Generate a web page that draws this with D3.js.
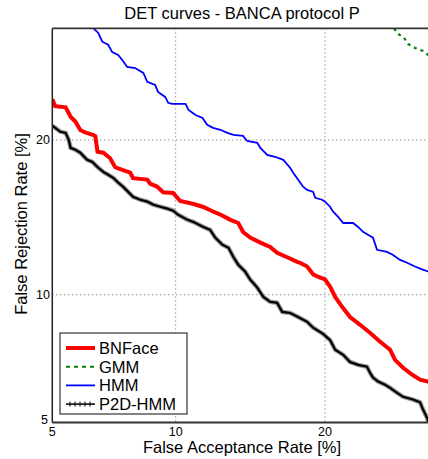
<!DOCTYPE html>
<html>
<head>
<meta charset="utf-8">
<script src="https://cdn.jsdelivr.net/npm/d3@7"></script>
<style>
  body { margin: 0; background: #fff; }
  svg { display: block; font-family: "Liberation Sans", Arial, sans-serif; }
</style>
</head>
<body>
<svg id="chart" width="428" height="459"></svg>
<script>
// rates in percent
var axisTicks = [5, 10, 20];
var axisRange = [5, 30];

var bnfaceFar = [5.0, 5.09, 5.42, 5.58, 5.74, 5.91, 6.08, 6.38, 6.45, 6.53, 6.75, 7.01, 7.22, 7.51, 7.85, 7.97, 8.61, 8.75, 9.07, 9.37, 9.87, 10.24, 10.96, 11.51, 12.07, 12.51, 13.13, 13.63, 13.94, 14.41, 15.10, 15.79, 16.29, 17.03, 17.78, 18.0, 18.56, 19.04, 19.36, 20.0, 20.42, 20.85, 21.44, 22.13, 23.02, 23.91, 24.85, 25.79, 26.26, 27.04, 27.91, 28.72, 29.52, 30.0];
var bnfaceFrr = [23.4, 22.8, 22.7, 21.9, 21.5, 20.8, 20.6, 20.4, 20.3, 19.07, 19.0, 18.6, 17.9, 17.7, 17.5, 17.1, 17.0, 16.7, 16.5, 16.1, 16.05, 15.5, 15.3, 15.1, 14.8, 14.6, 14.26, 14.06, 13.5, 13.15, 12.85, 12.6, 12.25, 12.0, 11.74, 11.69, 11.48, 11.05, 10.95, 10.78, 10.41, 9.89, 9.41, 8.93, 8.58, 8.23, 7.85, 7.52, 7.12, 6.82, 6.57, 6.39, 6.32, 6.25];

var gmmFar = [26.17, 26.55, 27.13, 27.52, 28.21, 29.02, 29.52, 30.0];
var gmmFrr = [30.0, 29.46, 29.07, 28.49, 28.1, 27.81, 27.43, 27.1];

var hmmFar = [6.38, 6.56, 6.71, 6.94, 7.10, 7.34, 7.51, 7.72, 8.06, 8.43, 8.61, 8.98, 9.12, 9.47, 9.62, 9.82, 10.52, 10.68, 11.07, 11.46, 11.73, 12.07, 12.51, 12.94, 13.32, 13.94, 14.21, 14.89, 15.10, 15.58, 16.14, 16.74, 17.26, 17.48, 17.85, 18.24, 18.56, 19.04, 19.2, 19.76, 20.0, 20.42, 20.68, 21.10, 21.53, 22.39, 22.84, 23.28, 23.73, 24.19, 24.56, 25.50, 26.07, 26.75, 27.43, 28.21, 28.92, 29.52, 30.0];
var hmmFrr = [30.0, 29.55, 28.7, 28.4, 27.7, 27.43, 26.96, 26.3, 26.2, 25.75, 24.94, 24.67, 24.04, 23.6, 23.09, 23.0, 23.0, 22.48, 22.05, 21.8, 21.23, 20.98, 20.82, 20.57, 20.41, 20.33, 19.92, 19.77, 19.38, 18.84, 18.69, 18.46, 17.85, 17.49, 17.0, 16.49, 16.27, 16.13, 15.72, 15.59, 15.46, 15.12, 14.79, 14.46, 14.06, 14.06, 13.81, 13.51, 13.33, 13.15, 12.43, 12.31, 12.13, 11.85, 11.69, 11.48, 11.32, 11.21, 11.15];

var p2dFar = [5.0, 5.09, 5.25, 5.42, 5.52, 5.58, 5.74, 5.91, 6.08, 6.15, 6.34, 6.53, 6.75, 6.94, 7.14, 7.35, 7.55, 7.76, 7.97, 8.29, 8.61, 8.88, 9.22, 9.57, 9.87, 10.13, 10.63, 10.96, 11.51, 11.90, 12.20, 12.63, 13.01, 13.32, 13.63, 14.07, 14.41, 14.89, 15.31, 15.79, 16.29, 16.66, 17.26, 18.0, 18.56, 19.04, 19.84, 20.42, 20.85, 21.53, 22.13, 22.84, 23.64, 23.91, 24.19, 24.66, 25.31, 25.79, 26.46, 27.04, 28.01, 28.72, 29.02, 29.42, 29.6];
var p2dFrr = [21.15, 20.98, 20.66, 20.57, 20.0, 19.38, 19.23, 19.0, 18.61, 18.46, 18.3, 17.92, 17.56, 17.35, 17.13, 16.77, 16.48, 16.13, 15.79, 15.59, 15.46, 15.26, 15.12, 14.99, 14.86, 14.59, 14.26, 14.12, 13.81, 13.63, 13.15, 12.73, 12.55, 12.01, 11.58, 11.21, 10.78, 10.36, 9.89, 9.65, 9.6, 9.17, 9.12, 8.89, 8.71, 8.45, 8.18, 7.92, 7.52, 7.32, 7.04, 6.93, 6.86, 6.64, 6.46, 6.32, 6.21, 6.10, 5.93, 5.80, 5.71, 5.62, 5.39, 5.14, 4.98];

var seriesNames = ["BNFace", "GMM", "HMM", "P2D-HMM"];

// inverse normal cdf (Acklam's approximation), DET axes are on normal deviate scale
function probit(p){
  var a = [-39.69683028665376, 220.9460984245205, -275.9285104469687, 138.3577518672690, -30.66479806614716, 2.506628277459239];
  var b = [-54.47609879822406, 161.5858368580409, -155.6989798598866, 66.80131188771972, -13.28068155288572];
  var c = [-0.007784894002430293, -0.3223964580411365, -2.400758277161838, -2.549732539343734, 4.374664141464968, 2.938163982698783];
  var d = [0.007784695709041462, 0.3224671290700398, 2.445134137142996, 3.754408661907416];
  var q, r;
  if (p < 0.02425){
    q = Math.sqrt(-2*Math.log(p));
    return (((((c[0]*q+c[1])*q+c[2])*q+c[3])*q+c[4])*q+c[5]) / ((((d[0]*q+d[1])*q+d[2])*q+d[3])*q+1);
  }
  if (p > 1 - 0.02425){
    q = Math.sqrt(-2*Math.log(1-p));
    return -(((((c[0]*q+c[1])*q+c[2])*q+c[3])*q+c[4])*q+c[5]) / ((((d[0]*q+d[1])*q+d[2])*q+d[3])*q+1);
  }
  q = p - 0.5;
  r = q*q;
  return (((((a[0]*r+a[1])*r+a[2])*r+a[3])*r+a[4])*r+a[5])*q / (((((b[0]*r+b[1])*r+b[2])*r+b[3])*r+b[4])*r+1);
}

var svg = d3.select("#chart");
// plot box (right edge falls just outside the 428px window, like the reference)
var plotL = 52.3, plotR = 432.7, plotT = 28.4, plotB = 422.5;

var x = d3.scaleLinear().domain(axisRange.map(function(v){ return probit(v/100); })).range([plotL, plotR]);
var y = d3.scaleLinear().domain(axisRange.map(function(v){ return probit(v/100); })).range([plotB, plotT]);
function px(v){ return x(probit(v/100)); }
function py(v){ return y(probit(v/100)); }

svg.append("defs").append("clipPath").attr("id", "plotClip")
  .append("rect").attr("x", plotL).attr("y", plotT).attr("width", plotR - plotL).attr("height", plotB - plotT);

// grid
var grid = svg.append("g");
axisTicks.slice(1).forEach(function(t){
  grid.append("line").attr("x1", px(t)).attr("x2", px(t)).attr("y1", plotT).attr("y2", plotB)
    .attr("stroke", "#666").attr("stroke-width", 1).attr("stroke-dasharray", "1,3");
  grid.append("line").attr("x1", plotL).attr("x2", plotR).attr("y1", py(t)).attr("y2", py(t))
    .attr("stroke", "#666").attr("stroke-width", 1).attr("stroke-dasharray", "1,3");
});

// curves
var plot = svg.append("g").attr("clip-path", "url(#plotClip)");
function zipPts(xs, ys){ return xs.map(function(v, i){ return [v, ys[i]]; }); }
var line = d3.line().x(function(d){ return px(d[0]); }).y(function(d){ return py(d[1]); });

plot.append("path").datum(zipPts(hmmFar, hmmFrr)).attr("d", line)
  .attr("fill", "none").attr("stroke", "#0000ff").attr("stroke-width", 1.8);
plot.append("path").datum(zipPts(gmmFar, gmmFrr)).attr("d", line)
  .attr("fill", "none").attr("stroke", "#008000").attr("stroke-width", 2.2).attr("stroke-dasharray", "3,4");
plot.append("path").datum(zipPts(bnfaceFar, bnfaceFrr)).attr("d", line)
  .attr("fill", "none").attr("stroke", "#ff0000").attr("stroke-width", 4);
// P2D-HMM: thin black line with + markers, drawn as a grey halo
plot.append("path").datum(zipPts(p2dFar, p2dFrr)).attr("d", line)
  .attr("fill", "none").attr("stroke", "#999").attr("stroke-width", 4.5);
plot.append("path").datum(zipPts(p2dFar, p2dFrr)).attr("d", line)
  .attr("fill", "none").attr("stroke", "#000").attr("stroke-width", 2.2);

// frame
svg.append("line").attr("x1", plotL).attr("x2", plotL).attr("y1", plotT).attr("y2", plotB).attr("stroke", "#222").attr("stroke-width", 1.5);
svg.append("line").attr("x1", plotL).attr("x2", plotR).attr("y1", plotB).attr("y2", plotB).attr("stroke", "#333").attr("stroke-width", 1.8);
svg.append("line").attr("x1", plotL).attr("x2", plotR).attr("y1", plotT).attr("y2", plotT).attr("stroke", "#333").attr("stroke-width", 1.8);

// tick labels
axisTicks.forEach(function(t){
  svg.append("text").attr("x", px(t)).attr("y", 436).attr("text-anchor", "middle")
    .attr("font-size", 12.5).text(t);
  svg.append("text").attr("x", t == 5 ? 48 : 50).attr("y", py(t) + (t == 5 ? 1 : 4.5)).attr("text-anchor", "end")
    .attr("font-size", 12.5).text(t);
});

// titles
svg.append("text").attr("x", 242).attr("y", 19).attr("text-anchor", "middle").attr("font-size", 16.5)
  .text("DET curves - BANCA protocol P");
svg.append("text").attr("x", 242).attr("y", 453).attr("text-anchor", "middle").attr("font-size", 16.5)
  .text("False Acceptance Rate [%]");
svg.append("text").attr("transform", "translate(27,224) rotate(-90)").attr("text-anchor", "middle").attr("font-size", 16.5)
  .text("False Rejection Rate [%]");

// legend
var lg = svg.append("g");
lg.append("rect").attr("x", 60).attr("y", 333).attr("width", 127).attr("height", 81)
  .attr("fill", "#fff").attr("stroke", "#333").attr("stroke-width", 1.2);
var legendStyles = [
  {color: "#ff0000", width: 4, dash: null},
  {color: "#008000", width: 2, dash: "4,4"},
  {color: "#0000ff", width: 1.8, dash: null},
  {color: "#000", width: 1.5, dash: null}
];
seriesNames.forEach(function(name, i){
  var ly = 348 + i * 18.7;
  var st = legendStyles[i];
  var ln = lg.append("line").attr("x1", 66).attr("x2", 95).attr("y1", ly).attr("y2", ly)
    .attr("stroke", st.color).attr("stroke-width", st.width);
  if (st.dash) ln.attr("stroke-dasharray", st.dash);
  if (i == 3){
    // little + markers on the legend sample
    [70, 75, 80, 85, 90].forEach(function(mx){
      lg.append("line").attr("x1", mx).attr("x2", mx).attr("y1", ly - 2.5).attr("y2", ly + 2.5)
        .attr("stroke", "#000").attr("stroke-width", 1);
    });
  }
  lg.append("text").attr("x", 99).attr("y", ly + 6).attr("font-size", 16.5).text(name);
});
</script>
</body>
</html>
